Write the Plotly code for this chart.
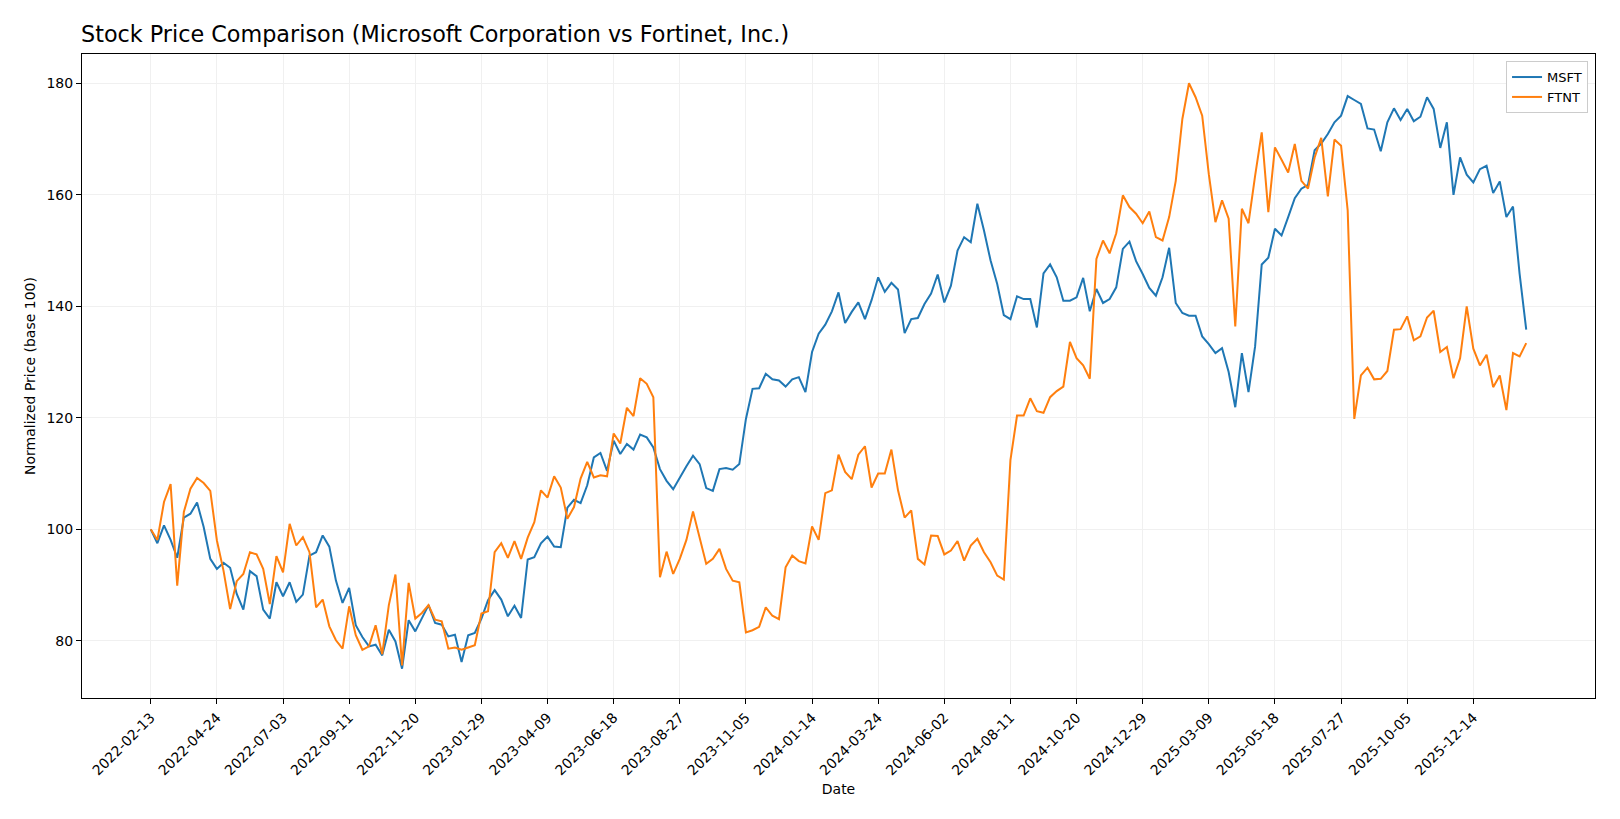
import pandas as pd
import plotly.graph_objects as go

# weekly closes, normalised to 100 on the first week
start_date = '2022-02-13'

msft = [
    100.0, 97.5, 100.7, 98.1, 94.9, 102.1, 102.8, 104.8, 100.4, 94.7,
    92.9, 94.0, 93.1, 88.4, 85.6, 92.5, 91.6, 85.6, 84.0, 90.5,
    88.0, 90.5, 87.0, 88.3, 95.3, 95.9, 98.9, 96.9, 90.8, 86.8,
    89.5, 82.8, 80.7, 79.0, 79.3, 77.4, 82.0, 79.9, 75.0, 83.7,
    81.7, 84.0, 86.4, 83.2, 82.9, 80.8, 81.1, 76.2, 81.0, 81.4,
    84.0, 87.3, 89.1, 87.4, 84.4, 86.3, 84.1, 94.6, 95.0, 97.5,
    98.7, 96.9, 96.8, 103.9, 105.3, 104.7, 107.9, 112.9, 113.7, 110.5,
    115.9, 113.5, 115.3, 114.3, 117.0, 116.5, 114.7, 110.8, 108.7, 107.2,
    109.3, 111.3, 113.2, 111.7, 107.4, 106.9, 110.8, 111.0, 110.7, 111.7,
    119.8, 125.2, 125.3, 127.9, 126.9, 126.7, 125.6, 126.9, 127.3, 124.6,
    131.8, 135.1, 136.7, 139.1, 142.5, 137.0, 139.0, 140.7, 137.7, 141.1,
    145.2, 142.6, 144.2, 143.0, 135.2, 137.7, 137.9, 140.4, 142.3, 145.7,
    140.7, 143.7, 150.0, 152.4, 151.5, 158.4, 153.6, 148.2, 144.0, 138.4,
    137.7, 141.8, 141.3, 141.3, 136.2, 145.9, 147.5, 145.2, 141.0, 141.0,
    141.6, 145.1, 139.1, 143.1, 140.6, 141.3, 143.4, 150.3, 151.6, 148.1,
    145.8, 143.3, 141.9, 145.2, 150.5, 140.6, 138.8, 138.3, 138.3, 134.6,
    133.2, 131.6, 132.5, 128.2, 121.9, 131.6, 124.6, 132.8, 147.5, 148.7,
    153.9, 152.7, 156.0, 159.4, 161.1, 161.8, 168.0, 169.2, 170.9, 173.0,
    174.2, 177.7, 177.0, 176.3, 171.9, 171.7, 167.8, 173.0, 175.5, 173.4,
    175.4, 173.2, 174.0, 177.5, 175.4, 168.4, 173.0, 160.0, 166.7, 163.6,
    162.2, 164.6, 165.2, 160.3, 162.4, 156.0, 157.9, 145.8, 135.8,
]

ftnt = [
    100.0, 98.1, 104.9, 108.1, 89.9, 103.1, 107.3, 109.2, 108.3, 106.9,
    98.0, 92.6, 85.7, 90.7, 92.0, 95.9, 95.5, 92.9, 86.6, 95.2,
    92.3, 101.0, 97.1, 98.6, 95.9, 86.0, 87.4, 82.6, 80.1, 78.6,
    86.2, 81.0, 78.4, 79.0, 82.8, 77.6, 86.4, 91.9, 75.6, 90.4,
    84.0, 85.0, 86.4, 83.8, 83.5, 78.6, 78.8, 78.4, 78.8, 79.2,
    84.9, 85.3, 95.9, 97.5, 94.9, 97.9, 94.7, 98.5, 101.3, 107.0,
    105.7, 109.5, 107.5, 101.9, 104.0, 109.1, 112.1, 109.3, 109.7, 109.5,
    117.2, 115.4, 121.8, 120.3, 127.1, 126.1, 123.7, 91.4, 96.0, 92.0,
    94.7, 98.1, 103.2, 98.3, 93.8, 94.7, 96.5, 92.9, 90.8, 90.5,
    81.5, 81.9, 82.5, 86.0, 84.5, 83.9, 93.2, 95.3, 94.3, 93.9,
    100.5, 98.1, 106.5, 107.0, 113.4, 110.3, 109.0, 113.4, 114.9, 107.5,
    110.0, 110.0, 114.3, 107.0, 102.1, 103.4, 94.7, 93.7, 98.9, 98.8,
    95.5, 96.2, 97.9, 94.4, 97.1, 98.3, 95.9, 94.1, 91.7, 91.0,
    112.4, 120.4, 120.4, 123.5, 121.2, 120.9, 123.7, 124.8, 125.6, 133.6,
    130.7, 129.4, 127.0, 148.5, 151.8, 149.5, 153.1, 159.9, 157.8, 156.6,
    154.9, 157.0, 152.4, 151.8, 156.0, 162.5, 173.6, 180.0, 177.5, 174.2,
    163.7, 155.1, 159.0, 155.7, 136.4, 157.5, 154.9, 163.4, 171.2, 156.9,
    168.5, 166.3, 164.0, 169.1, 162.5, 161.1, 166.7, 170.2, 159.7, 169.9,
    168.8, 157.2, 119.8, 127.6, 129.0, 126.9, 127.0, 128.4, 135.8, 135.9,
    138.2, 133.9, 134.6, 138.0, 139.2, 131.8, 132.7, 127.1, 130.7, 140.0,
    132.4, 129.4, 131.3, 125.5, 127.6, 121.4, 131.6, 131.0, 133.4,
]

tick_labels = [
    '2022-02-13', '2022-04-24', '2022-07-03', '2022-09-11', '2022-11-20',
    '2023-01-29', '2023-04-09', '2023-06-18', '2023-08-27', '2023-11-05',
    '2024-01-14', '2024-03-24', '2024-06-02', '2024-08-11', '2024-10-20',
    '2024-12-29', '2025-03-09', '2025-05-18', '2025-07-27', '2025-10-05',
    '2025-12-14',
]
y_ticks = [80, 100, 120, 140, 160, 180]

dates = pd.date_range(start_date, periods=len(msft), freq='7D')

# matplotlib-like 5% padding on both axes
span = dates[-1] - dates[0]
x_range = [dates[0] - span * 0.05, dates[-1] + span * 0.05]
lo = min(min(msft), min(ftnt))
hi = max(max(msft), max(ftnt))
y_range = [lo - (hi - lo) * 0.05, hi + (hi - lo) * 0.05]

font = 'DejaVu Sans'
grid = '#f0f0f0'

# page body has an 8px margin, so the figure is a bit smaller than the window
fig_w, fig_h = 1612, 811

fig = go.Figure()
fig.add_trace(go.Scatter(
    name='MSFT',
    x=dates,
    y=msft,
    mode='lines',
    line=dict(color='#1f77b4', width=2),
))
fig.add_trace(go.Scatter(
    name='FTNT',
    x=dates,
    y=ftnt,
    mode='lines',
    line=dict(color='#ff7f0e', width=2),
))

fig.update_layout(
    width=fig_w,
    height=fig_h,
    paper_bgcolor='white',
    plot_bgcolor='white',
    margin=dict(l=74, r=25, t=46, b=121),
    font=dict(family=font, size=14, color='black'),
    title=dict(
        text='Stock Price Comparison (Microsoft Corporation vs Fortinet, Inc.)',
        font=dict(family=font, size=22.3, color='black'),
        x=73 / fig_w,
        xanchor='left',
        y=1 - 26 / fig_h,
        yanchor='middle',
    ),
    showlegend=True,
    legend=dict(
        x=0.9954,
        y=0.989,
        xanchor='right',
        yanchor='top',
        bgcolor='white',
        bordercolor='#cccccc',
        borderwidth=1,
        font=dict(family=font, size=13),
        tracegroupgap=0,
    ),
)

fig.update_xaxes(
    title=dict(text='Date', font=dict(size=14), standoff=6),
    range=x_range,
    tickvals=pd.to_datetime(tick_labels),
    ticktext=tick_labels,
    tickangle=-45,
    ticks='outside',
    ticklen=5,
    tickcolor='black',
    showline=True,
    linecolor='black',
    linewidth=1,
    mirror=True,
    showgrid=True,
    gridcolor=grid,
    gridwidth=1,
    zeroline=False,
)
fig.update_yaxes(
    title=dict(text='Normalized Price (base 100)', font=dict(size=14), standoff=7),
    range=y_range,
    tickvals=y_ticks,
    ticks='outside',
    ticklen=5,
    tickcolor='black',
    showline=True,
    linecolor='black',
    linewidth=1,
    mirror=True,
    showgrid=True,
    gridcolor=grid,
    gridwidth=1,
    zeroline=False,
)

fig.write_html('out.html')
